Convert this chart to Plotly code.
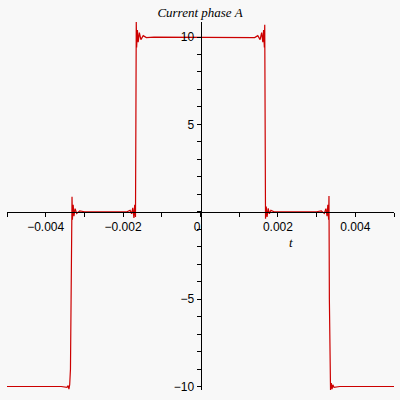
import plotly.graph_objects as go

# time (s) and current (A)
t_vals = [-0.00500, -0.00360, -0.00345, -0.00342, -0.00340, -0.00338, -0.00336,
          -0.00334, -0.00333, -0.00332, -0.00331, -0.00329, -0.00327, -0.00324,
          -0.00320, -0.00312, -0.00300, -0.00190, -0.00182, -0.00178, -0.00175,
          -0.00172, -0.00170, -0.00168, -0.00167, -0.00166, -0.00165, -0.00163,
          -0.00161, -0.00158, -0.00154, -0.00148, -0.00140, -0.00120,
          0.00120, 0.00140, 0.00148, 0.00154, 0.00158, 0.00161, 0.00163,
          0.00165, 0.00166, 0.00167, 0.00168, 0.00170, 0.00172, 0.00175,
          0.00178, 0.00182, 0.00190, 0.00300, 0.00312, 0.00320, 0.00324,
          0.00327, 0.00329, 0.00331, 0.00332, 0.00333, 0.00334, 0.00336,
          0.00338, 0.00340, 0.00342, 0.00345, 0.00360, 0.00500]
i_vals = [-10.0, -10.0, -10.05, -9.95, -10.15, -9.9, -9.0,
          -4.3, -0.5, 0.86, -0.45, 0.4, -0.25, 0.18,
          -0.1, 0.05, 0.0, 0.0, 0.08, -0.12, 0.22,
          -0.35, 0.4, -0.3, 5.0, 10.86, 9.4, 10.4,
          9.7, 10.25, 9.85, 10.08, 9.97, 10.0,
          10.0, 9.97, 10.08, 9.85, 10.25, 9.7, 10.4,
          9.4, 10.7, 5.0, -0.4, 0.3, -0.3, 0.2,
          -0.12, 0.08, 0.0, 0.0, 0.05, -0.1, 0.18,
          -0.25, 0.4, -0.45, 0.9, -5.0, -9.9, -10.2,
          -9.8, -10.15, -9.9, -10.05, -10.0, -10.0]

x_tickvals = [-0.004, -0.002, 0, 0.002, 0.004]
x_ticktext = ["\u22120.004", "\u22120.002", "0\u00a0\u00a0", "0.002", "0.004"]
y_tickvals = [-10, -5, 5, 10]
y_ticktext = ["\u221210", "\u22125", "5", "10"]

x_range = [-0.005, 0.005]
y_range = [-10.2, 10.86]

fig = go.Figure()
fig.add_trace(go.Scatter(x=t_vals, y=i_vals, mode="lines",
                         line=dict(color="#cc0000", width=1.2),
                         showlegend=False, hoverinfo="skip"))

x_pos = (0 - y_range[0]) / (y_range[1] - y_range[0])
y_pos = (0 - x_range[0]) / (x_range[1] - x_range[0])

tickfont = dict(family="Liberation Sans, Arial, sans-serif", size=12, color="black")

fig.update_layout(
    width=400, height=400,
    margin=dict(l=7, r=6, t=22, b=10),
    paper_bgcolor="#f8f8f8", plot_bgcolor="#f8f8f8",
    title=dict(text="<i>Current phase A</i>", x=0.5, xanchor="center",
               y=1 - 12 / 400, yref="container", yanchor="middle",
               font=dict(family="Liberation Serif, Times New Roman, serif", size=13, color="black")),
    xaxis=dict(range=x_range, anchor="free", position=x_pos,
               showline=True, linecolor="black", linewidth=1,
               showgrid=False, zeroline=False,
               tickmode="array", tickvals=x_tickvals, ticktext=x_ticktext,
               ticks="outside", ticklen=4, tickcolor="black", tickfont=tickfont,
               minor=dict(dtick=0.001, tick0=0, ticks="outside", ticklen=4, tickcolor="black", showgrid=False),
               automargin=False),
    yaxis=dict(range=y_range, anchor="free", position=y_pos,
               showline=True, linecolor="black", linewidth=1,
               showgrid=False, zeroline=False,
               tickmode="array", tickvals=y_tickvals, ticktext=y_ticktext,
               ticks="outside", ticklen=4, tickcolor="black", tickfont=tickfont,
               minor=dict(dtick=1, tick0=0, ticks="outside", ticklen=4, tickcolor="black", showgrid=False),
               automargin=False),
    annotations=[dict(text="<i>t</i>", xref="x", yref="y", x=0.00233, y=-1.75,
                      showarrow=False,
                      font=dict(family="Liberation Serif, Times New Roman, serif", size=13, color="black"))],
)

fig.write_html("out.html", config={"displayModeBar": False},
               post_script="document.body.style.margin='0';document.body.style.background='#f8f8f8';")
